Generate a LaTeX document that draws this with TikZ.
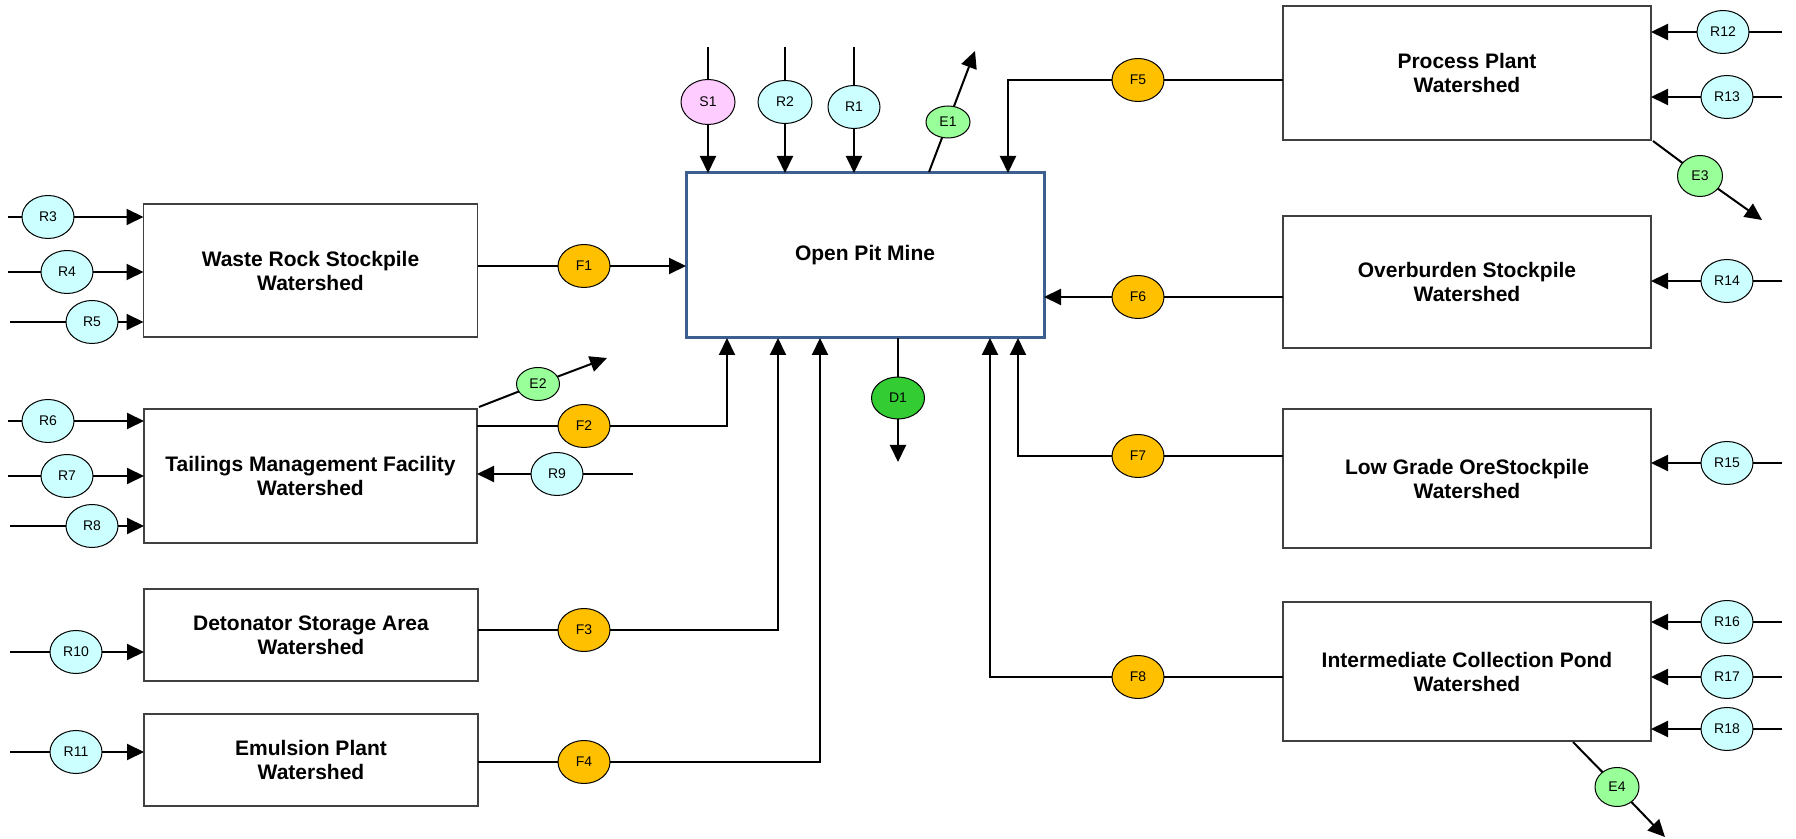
\documentclass[tikz,border=0pt]{standalone}
\usepackage{fontspec}
\setmainfont{Liberation Sans}
\usetikzlibrary{shapes.geometric,arrows.meta}
\definecolor{rcyan}{HTML}{CCFFFF}
\definecolor{forange}{HTML}{FFC000}
\definecolor{elgreen}{HTML}{99FF99}
\definecolor{dgreen}{HTML}{33CC33}
\definecolor{spink}{HTML}{FFCCFF}
\definecolor{boxgray}{HTML}{404040}
\definecolor{minecol}{HTML}{3C5F8F}
\begin{document}
\begin{tikzpicture}[x=0.5pt,y=-0.5pt,
  box/.style={draw=boxgray, line width=0.75pt, fill=white, align=center,
    font=\fontsize{10.5}{12}\selectfont\bfseries, inner sep=0pt, outer sep=0pt},
  mine/.style={box, draw=minecol, line width=1.5pt},
  ell/.style={ellipse, draw=black, line width=0.5pt, inner sep=0pt, outer sep=0pt,
    minimum width=26pt, minimum height=21.5pt, font=\fontsize{7}{8}\selectfont},
  rain/.style={ell, fill=rcyan},
  flow/.style={ell, fill=forange},
  evap/.style={ell, fill=elgreen, minimum width=22pt, minimum height=16pt},
  drain/.style={ell, fill=dgreen},
  seep/.style={ell, fill=spink, minimum width=27pt, minimum height=22.5pt},
  conn/.style={draw=black, line width=1pt},
  arr/.style={conn, -{Triangle[length=8.5pt,width=8pt]}}
]
\useasboundingbox (0,0) rectangle (1796,839);

% ---------- boxes ----------
\node[box, minimum width=167pt, minimum height=66.5pt] (wr) at (310.5,270.5) {Waste Rock Stockpile\\Watershed};
\node[box, minimum width=166.5pt, minimum height=67pt] (tmf) at (310.5,476) {Tailings Management Facility\\Watershed};
\node[box, minimum width=167pt, minimum height=46pt] (dsa) at (311,635) {Detonator Storage Area\\Watershed};
\node[box, minimum width=167pt, minimum height=46pt] (emp) at (311,760) {Emulsion Plant\\Watershed};
\node[mine, minimum width=179pt, minimum height=82.5pt] (opm) at (865,255.5) {Open Pit Mine};
\node[box, minimum width=184pt, minimum height=67pt] (pp) at (1467,73) {Process Plant\\Watershed};
\node[box, minimum width=184pt, minimum height=66pt] (ob) at (1467,282) {Overburden Stockpile\\Watershed};
\node[box, minimum width=184pt, minimum height=69.5pt] (lg) at (1467,478.5) {Low Grade OreStockpile\\Watershed};
\node[box, minimum width=184pt, minimum height=69.5pt] (icp) at (1467,671.5) {Intermediate Collection Pond\\Watershed};

% ---------- left runoff inputs ----------
\node[rain] (R3) at (48,217) {R3};
\node[rain] (R4) at (67,272) {R4};
\node[rain] (R5) at (92,322) {R5};
\node[rain] (R6) at (48,421) {R6};
\node[rain] (R7) at (67,476) {R7};
\node[rain] (R8) at (92,526) {R8};
\node[rain] (R10) at (76,652) {R10};
\node[rain] (R11) at (76,752) {R11};
\coordinate (R3s) at (8,217);
\coordinate (R4s) at (8,272);
\coordinate (R5s) at (10,322);
\coordinate (R6s) at (8,421);
\coordinate (R7s) at (8,476);
\coordinate (R8s) at (10,526);
\coordinate (R10s) at (10,652);
\coordinate (R11s) at (10,752);
\foreach \r/\b in {R3/wr,R4/wr,R5/wr,R6/tmf,R7/tmf,R8/tmf,R10/dsa,R11/emp}{
  \draw[conn] (\r s) -- (\r);
  \draw[arr] (\r) -- (\r -| \b.west);
}

% ---------- R9 ----------
\node[rain] (R9) at (557,474) {R9};
\coordinate (R9s) at (633,474);
\draw[conn] (R9s) -- (R9);
\draw[arr] (R9) -- (R9 -| tmf.east);

% ---------- top inputs of the mine ----------
\node[seep] (S1) at (708,102) {S1};
\node[rain, minimum width=27pt] (R2) at (785,102) {R2};
\node[rain] (R1) at (854,107) {R1};
\coordinate (S1s) at (708,47);
\coordinate (R2s) at (785,47);
\coordinate (R1s) at (854,47);
\foreach \r in {S1,R2,R1}{
  \draw[conn] (\r s) -- (\r);
  \draw[arr] (\r) -- (\r |- opm.north);
}

% ---------- evaporation ----------
\node[evap] (E1) at (948,122) {E1};
\coordinate (E1s) at (929,172);
\coordinate (E1e) at (975,51);
\draw[conn] (E1s) -- (E1);
\draw[arr] (E1) -- (E1e);

\node[evap, minimum width=21.5pt, minimum height=16.5pt] (E2) at (538,384) {E2};
\coordinate (E2s) at (479,407);
\coordinate (E2e) at (607,358);
\draw[conn] (E2s) -- (E2);
\draw[arr] (E2) -- (E2e);

\node[evap, minimum width=22.5pt, minimum height=20.5pt] (E3) at (1700,176) {E3};
\coordinate (E3s) at (1653,141);
\coordinate (E3e) at (1762,220);
\draw[conn] (E3s) -- (E3);
\draw[arr] (E3) -- (E3e);

\node[evap, minimum width=22pt, minimum height=19.5pt] (E4) at (1617,787) {E4};
\coordinate (E4s) at (1573,742);
\coordinate (E4e) at (1665,837);
\draw[conn] (E4s) -- (E4);
\draw[arr] (E4) -- (E4e);

% ---------- D1 ----------
\node[drain, minimum width=26.5pt, minimum height=21pt] (D1) at (898,398) {D1};
\coordinate (D1e) at (898,462);
\draw[conn] (D1 |- opm.south) -- (D1);
\draw[arr] (D1) -- (D1e);

% ---------- flows into the mine, left ----------
\node[flow] (F1) at (584,266) {F1};
\draw[conn] (F1 -| wr.east) -- (F1);
\draw[arr] (F1) -- (F1 -| opm.west);

\node[flow] (F2) at (584,426) {F2};
\coordinate (F2c) at (727,426);
\draw[conn] (F2 -| tmf.east) -- (F2);
\draw[arr] (F2) -- (F2c) -- (F2c |- opm.south);

\node[flow] (F3) at (584,630) {F3};
\coordinate (F3c) at (778,630);
\draw[conn] (F3 -| dsa.east) -- (F3);
\draw[arr] (F3) -- (F3c) -- (F3c |- opm.south);

\node[flow] (F4) at (584,762) {F4};
\coordinate (F4c) at (820,762);
\draw[conn] (F4 -| emp.east) -- (F4);
\draw[arr] (F4) -- (F4c) -- (F4c |- opm.south);

% ---------- flows into the mine, right ----------
\node[flow] (F5) at (1138,80) {F5};
\coordinate (F5c) at (1008,80);
\draw[conn] (F5 -| pp.west) -- (F5);
\draw[arr] (F5) -- (F5c) -- (F5c |- opm.north);

\node[flow] (F6) at (1138,297) {F6};
\draw[conn] (F6 -| ob.west) -- (F6);
\draw[arr] (F6) -- (F6 -| opm.east);

\node[flow] (F7) at (1138,456) {F7};
\coordinate (F7c) at (1018,456);
\draw[conn] (F7 -| lg.west) -- (F7);
\draw[arr] (F7) -- (F7c) -- (F7c |- opm.south);

\node[flow] (F8) at (1138,677) {F8};
\coordinate (F8c) at (990,677);
\draw[conn] (F8 -| icp.west) -- (F8);
\draw[arr] (F8) -- (F8c) -- (F8c |- opm.south);

% ---------- right runoff inputs ----------
\node[rain] (R12) at (1723,32) {R12};
\node[rain] (R13) at (1727,97) {R13};
\node[rain] (R14) at (1727,281) {R14};
\node[rain] (R15) at (1727,463) {R15};
\node[rain] (R16) at (1727,622) {R16};
\node[rain] (R17) at (1727,677) {R17};
\node[rain] (R18) at (1727,729) {R18};
\coordinate (R12s) at (1782,32);
\coordinate (R13s) at (1782,97);
\coordinate (R14s) at (1782,281);
\coordinate (R15s) at (1782,463);
\coordinate (R16s) at (1782,622);
\coordinate (R17s) at (1782,677);
\coordinate (R18s) at (1782,729);
\foreach \r/\b in {R12/pp,R13/pp,R14/ob,R15/lg,R16/icp,R17/icp,R18/icp}{
  \draw[conn] (\r s) -- (\r);
  \draw[arr] (\r) -- (\r -| \b.east);
}
\end{tikzpicture}
\end{document}
